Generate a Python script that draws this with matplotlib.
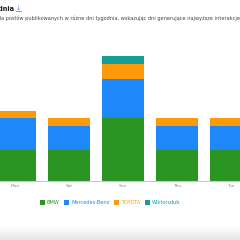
import matplotlib
matplotlib.use("Agg")
import matplotlib.pyplot as plt
import numpy as np
from matplotlib.patches import Patch
from matplotlib.lines import Line2D

days = ["Mon", "Sat", "Sun", "Thu", "Tue"]
series = ["BMW", "Mercedes-Benz", "TOYOTA", "Wiktorsdub"]
bmw = [4, 4, 8, 4, 4]
mercedes = [4, 3, 5, 3, 3]
toyota = [1, 1, 2, 1, 1]
wiktor = [0, 0, 1, 0, 0]
colors = ["#2a9523", "#1e88fb", "#fd9a0a", "#149e96"]

W = H = 240
fig = plt.figure(figsize=(2.4, 2.4), dpi=100)
fig.patch.set_facecolor("white")

# axes: category slot 54 px, first centre at x=15 px; baseline at y=180.7 px
slot = 54.0
left_px = 15 - slot / 2
ax = fig.add_axes([left_px / W, (H - 180.7) / H, slot * 5 / W, 124.8 / H])
x = np.arange(len(days))
bottom = np.zeros(len(days))
for vals, c in zip([bmw, mercedes, toyota, wiktor], colors):
    ax.bar(x, vals, bottom=bottom, width=42 / slot, color=c, linewidth=0)
    bottom += np.array(vals)
ax.set_xlim(-0.5, len(days) - 0.5)
ax.set_ylim(0, 16)
for s in ["top", "right", "left"]:
    ax.spines[s].set_visible(False)
ax.spines["bottom"].set_color("#c8c8c8")
ax.spines["bottom"].set_linewidth(0.8)
ax.set_yticks([])
ax.set_xticks(x)
ax.set_xticklabels(days, fontsize=3.2, color="#888888")
ax.tick_params(axis="x", length=0, pad=2.5)

# title and subtitle (cropped at the edges, as in the reference)
fig.text(14 / W, 1 - 8.5 / H, "Aktywność w dniach tygodnia", ha="right", va="center",
         fontsize=4.8, fontweight="bold", color="#222222")
fig.text(18.5 / W, 1 - 8.0 / H, "↓", ha="center", va="center", fontsize=4.6,
         color="#4a90e2", family=["DejaVu Sans"])
fig.add_artist(Line2D([16.3 / W, 20.7 / W], [1 - 11.3 / H, 1 - 11.3 / H],
                      color="#4a90e2", lw=0.6, transform=fig.transFigure))
fig.text(-1.5 / W, 1 - 18.5 / H,
         "ila postów publikowanych w różne dni tygodnia, wskazując dni generujące najwyższe interakcje.",
         ha="left", va="center", fontsize=3.6, color="#444444")

# legend
handles = [Patch(facecolor=c, edgecolor="none") for c in colors]
leg = fig.legend(handles, series, loc="center", bbox_to_anchor=(110 / W, 1 - 202.5 / H),
                 ncol=4, fontsize=3.6, frameon=False, handlelength=1.0, handleheight=1.0,
                 handletextpad=0.4, columnspacing=0.9, labelcolor=colors)

# bottom grey shade
gax = fig.add_axes([0, 0, 1, 14 / H])
grad = np.linspace(1.0, 0.9, 50).reshape(-1, 1)
gax.imshow(grad, aspect="auto", cmap="gray", vmin=0, vmax=1, extent=[0, 1, 1, 0])
gax.axis("off")

fig.savefig("out.png", dpi=100, facecolor="white")
